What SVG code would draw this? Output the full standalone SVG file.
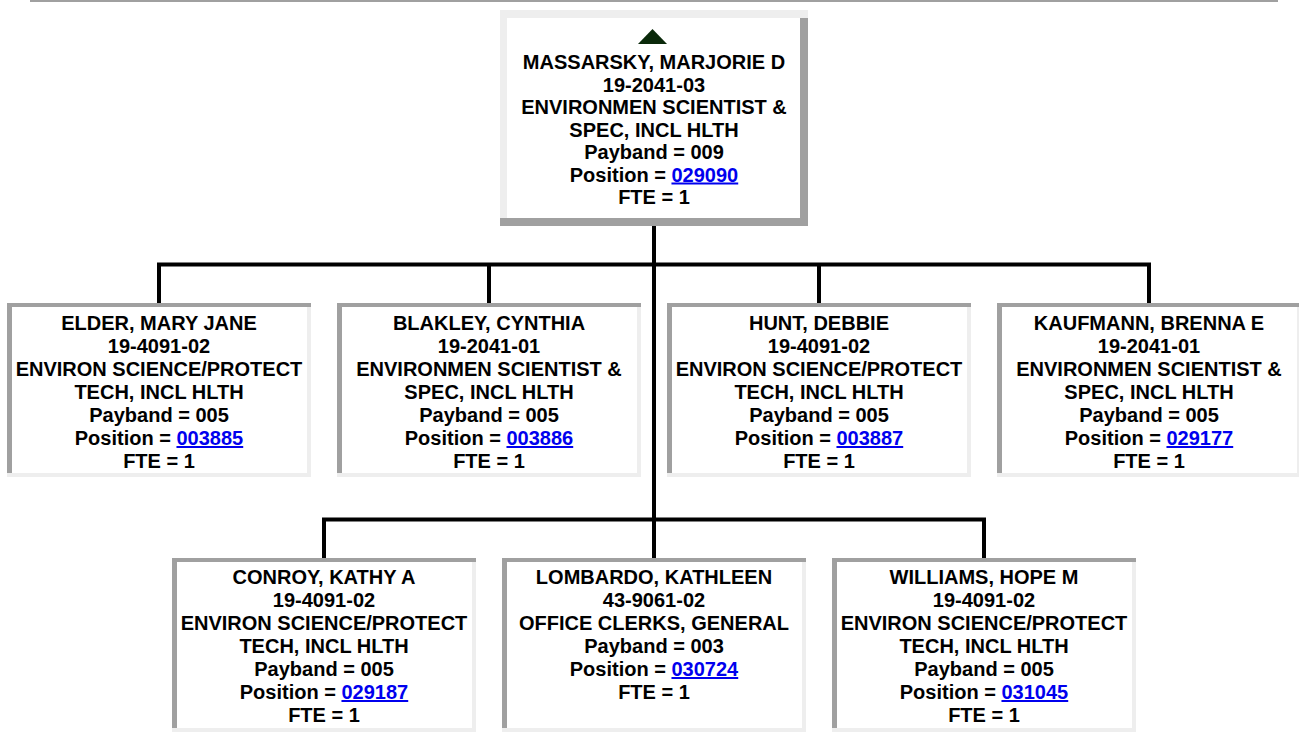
<svg xmlns="http://www.w3.org/2000/svg" width="1299" height="740" viewBox="0 0 1299 740">
<style>
.t{font-family:"Liberation Sans",Arial,Helvetica,sans-serif;font-weight:bold;font-size:20px;fill:#000;text-anchor:middle}
.lk{fill:#0000ee;text-decoration:underline}
.dk{fill:#a0a0a0}
.lt{fill:#eeeeee}
.bg{fill:#ffffff}
.cn{stroke:#000;stroke-width:4;fill:none}
</style>
<rect x="30" y="0" width="1248" height="2" class="dk"/>
<g id="connectors">
<path class="cn" d="M654 226V558"/>
<path class="cn" d="M157 264.5H1151M159 264.5V303M489 264.5V303M819 264.5V303M1149 264.5V303"/>
<path class="cn" d="M322 519.5H986M324 519.5V558M984 519.5V558"/>
</g>
<g id="root">
<rect x="500" y="10" width="308" height="216" class="bg"/>
<rect x="500" y="10" width="308" height="8" class="lt"/>
<rect x="500" y="10" width="7" height="208" class="lt"/>
<rect x="800" y="18" width="8" height="208" class="dk"/>
<rect x="500" y="218" width="308" height="8" class="dk"/>
<polygon points="638,44 667,44 652.5,29" fill="#0a290a"/>
<text class="t" x="654" y="69">MASSARSKY, MARJORIE D</text>
<text class="t" x="654" y="91.5">19-2041-03</text>
<text class="t" x="654" y="114">ENVIRONMEN SCIENTIST &amp;</text>
<text class="t" x="654" y="136.5">SPEC, INCL HLTH</text>
<text class="t" x="654" y="159">Payband = 009</text>
<text class="t" x="654" y="181.5">Position = <tspan class="lk">029090</tspan></text>
<text class="t" x="654" y="204">FTE = 1</text>
</g>
<g id="elder">
<rect x="7" y="303" width="304" height="174" class="bg"/>
<rect x="307" y="307" width="4" height="170" class="lt"/>
<rect x="7" y="473" width="304" height="4" class="lt"/>
<rect x="7" y="303" width="304" height="4" class="dk"/>
<rect x="7" y="303" width="5" height="170" class="dk"/>
<text class="t" x="159" y="330">ELDER, MARY JANE</text>
<text class="t" x="159" y="353">19-4091-02</text>
<text class="t" x="159" y="376">ENVIRON SCIENCE/PROTECT</text>
<text class="t" x="159" y="399">TECH, INCL HLTH</text>
<text class="t" x="159" y="422">Payband = 005</text>
<text class="t" x="159" y="445">Position = <tspan class="lk">003885</tspan></text>
<text class="t" x="159" y="468">FTE = 1</text>
</g>
<g id="blakley">
<rect x="337" y="303" width="304" height="174" class="bg"/>
<rect x="637" y="307" width="4" height="170" class="lt"/>
<rect x="337" y="473" width="304" height="4" class="lt"/>
<rect x="337" y="303" width="304" height="4" class="dk"/>
<rect x="337" y="303" width="5" height="170" class="dk"/>
<text class="t" x="489" y="330">BLAKLEY, CYNTHIA</text>
<text class="t" x="489" y="353">19-2041-01</text>
<text class="t" x="489" y="376">ENVIRONMEN SCIENTIST &amp;</text>
<text class="t" x="489" y="399">SPEC, INCL HLTH</text>
<text class="t" x="489" y="422">Payband = 005</text>
<text class="t" x="489" y="445">Position = <tspan class="lk">003886</tspan></text>
<text class="t" x="489" y="468">FTE = 1</text>
</g>
<g id="hunt">
<rect x="667" y="303" width="304" height="174" class="bg"/>
<rect x="967" y="307" width="4" height="170" class="lt"/>
<rect x="667" y="473" width="304" height="4" class="lt"/>
<rect x="667" y="303" width="304" height="4" class="dk"/>
<rect x="667" y="303" width="5" height="170" class="dk"/>
<text class="t" x="819" y="330">HUNT, DEBBIE</text>
<text class="t" x="819" y="353">19-4091-02</text>
<text class="t" x="819" y="376">ENVIRON SCIENCE/PROTECT</text>
<text class="t" x="819" y="399">TECH, INCL HLTH</text>
<text class="t" x="819" y="422">Payband = 005</text>
<text class="t" x="819" y="445">Position = <tspan class="lk">003887</tspan></text>
<text class="t" x="819" y="468">FTE = 1</text>
</g>
<g id="kaufmann">
<rect x="997" y="303" width="304" height="174" class="bg"/>
<rect x="1297" y="307" width="4" height="170" class="lt"/>
<rect x="997" y="473" width="304" height="4" class="lt"/>
<rect x="997" y="303" width="304" height="4" class="dk"/>
<rect x="997" y="303" width="5" height="170" class="dk"/>
<text class="t" x="1149" y="330">KAUFMANN, BRENNA E</text>
<text class="t" x="1149" y="353">19-2041-01</text>
<text class="t" x="1149" y="376">ENVIRONMEN SCIENTIST &amp;</text>
<text class="t" x="1149" y="399">SPEC, INCL HLTH</text>
<text class="t" x="1149" y="422">Payband = 005</text>
<text class="t" x="1149" y="445">Position = <tspan class="lk">029177</tspan></text>
<text class="t" x="1149" y="468">FTE = 1</text>
</g>
<g id="conroy">
<rect x="172" y="558" width="304" height="174" class="bg"/>
<rect x="472" y="562" width="4" height="170" class="lt"/>
<rect x="172" y="728" width="304" height="4" class="lt"/>
<rect x="172" y="558" width="304" height="4" class="dk"/>
<rect x="172" y="558" width="5" height="170" class="dk"/>
<text class="t" x="324" y="584">CONROY, KATHY A</text>
<text class="t" x="324" y="607">19-4091-02</text>
<text class="t" x="324" y="630">ENVIRON SCIENCE/PROTECT</text>
<text class="t" x="324" y="653">TECH, INCL HLTH</text>
<text class="t" x="324" y="676">Payband = 005</text>
<text class="t" x="324" y="699">Position = <tspan class="lk">029187</tspan></text>
<text class="t" x="324" y="722">FTE = 1</text>
</g>
<g id="lombardo">
<rect x="502" y="558" width="304" height="174" class="bg"/>
<rect x="802" y="562" width="4" height="170" class="lt"/>
<rect x="502" y="728" width="304" height="4" class="lt"/>
<rect x="502" y="558" width="304" height="4" class="dk"/>
<rect x="502" y="558" width="5" height="170" class="dk"/>
<text class="t" x="654" y="584">LOMBARDO, KATHLEEN</text>
<text class="t" x="654" y="607">43-9061-02</text>
<text class="t" x="654" y="630">OFFICE CLERKS, GENERAL</text>
<text class="t" x="654" y="653">Payband = 003</text>
<text class="t" x="654" y="676">Position = <tspan class="lk">030724</tspan></text>
<text class="t" x="654" y="699">FTE = 1</text>
</g>
<g id="williams">
<rect x="832" y="558" width="304" height="174" class="bg"/>
<rect x="1132" y="562" width="4" height="170" class="lt"/>
<rect x="832" y="728" width="304" height="4" class="lt"/>
<rect x="832" y="558" width="304" height="4" class="dk"/>
<rect x="832" y="558" width="5" height="170" class="dk"/>
<text class="t" x="984" y="584">WILLIAMS, HOPE M</text>
<text class="t" x="984" y="607">19-4091-02</text>
<text class="t" x="984" y="630">ENVIRON SCIENCE/PROTECT</text>
<text class="t" x="984" y="653">TECH, INCL HLTH</text>
<text class="t" x="984" y="676">Payband = 005</text>
<text class="t" x="984" y="699">Position = <tspan class="lk">031045</tspan></text>
<text class="t" x="984" y="722">FTE = 1</text>
</g>
</svg>
